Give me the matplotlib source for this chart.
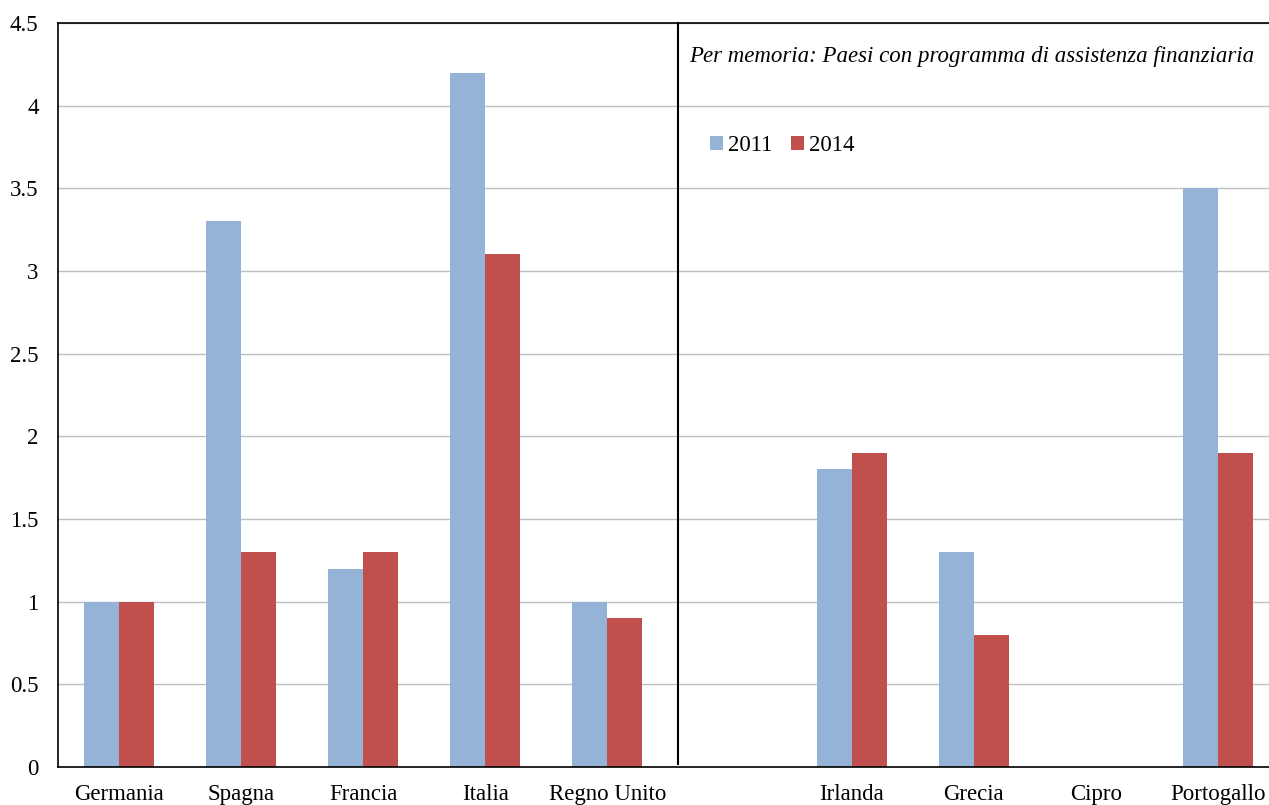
import matplotlib
matplotlib.use("Agg")
import matplotlib.pyplot as plt
import numpy as np

categories = ["Germania", "Spagna", "Francia", "Italia", "Regno Unito", "",
              "Irlanda", "Grecia", "Cipro", "Portogallo"]
values_2011 = [1.0, 3.3, 1.2, 4.2, 1.0, np.nan, 1.8, 1.3, np.nan, 3.5]
values_2014 = [1.0, 1.3, 1.3, 3.1, 0.9, np.nan, 1.9, 0.8, np.nan, 1.9]
series_labels = ["2011", "2014"]
y_ticks = [0, 0.5, 1, 1.5, 2, 2.5, 3, 3.5, 4, 4.5]
y_ticklabels = ["0", "0.5", "1", "1.5", "2", "2.5", "3", "3.5", "4", "4.5"]

plt.rcParams["font.family"] = ["Liberation Serif", "DejaVu Serif"]

fig = plt.figure(figsize=(12.69, 8.05), dpi=100)
ax = fig.add_axes([58 / 1269, 38 / 805, 1221 / 1269, 744 / 805])

x = np.arange(len(categories))
w = 0.287
ax.bar(x - w / 2, values_2011, width=w, color="#95B3D7", label=series_labels[0], zorder=2)
ax.bar(x + w / 2, values_2014, width=w, color="#C0504D", label=series_labels[1], zorder=2)

ax.set_xlim(-0.5, len(categories) - 0.5)
ax.set_ylim(0, 4.5)
ax.set_yticks(y_ticks)
ax.set_yticklabels(y_ticklabels, fontsize=16.5)
ax.set_xticks(x)
ax.set_xticklabels(categories, fontsize=16.5)
ax.tick_params(axis="both", length=0)
ax.tick_params(axis="x", pad=12)
ax.tick_params(axis="y", pad=14)
ax.yaxis.grid(True, color="#BFBFBF", linewidth=1, zorder=0)
ax.set_axisbelow(True)
for side in ["left", "top", "bottom", "right"]:
    ax.spines[side].set_color("black")
    ax.spines[side].set_linewidth(1.2)

# divider between the main group and programme countries
ax.plot([4.58, 4.58], [0.02, 4.5], color="black", linewidth=1.5, zorder=3, clip_on=False)

ax.text(4.67, 4.3, "Per memoria: Paesi con programma di assistenza finanziaria",
        fontsize=16.5, style="italic", ha="left", va="center")

ax.legend(loc="center left", bbox_to_anchor=(0.534, 0.835), frameon=False, fontsize=16.5,
          handlelength=0.55, handleheight=0.55, handletextpad=0.25, columnspacing=0.8,
          ncol=2, borderaxespad=0, borderpad=0)

fig.text(0.475, 1.012, "(dati in pp del totale)", fontsize=16, style="italic",
         ha="center", va="center")

fig.savefig("out.png", dpi=100)
